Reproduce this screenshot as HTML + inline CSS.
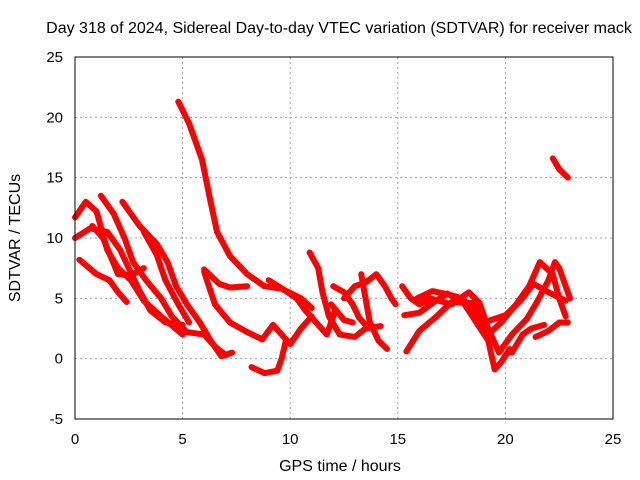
<!DOCTYPE html>
<html><head><meta charset="utf-8"><style>
body{margin:0;background:#fff}
svg{display:block;font-family:"Liberation Sans",sans-serif}
</style></head><body>
<svg id="chart" width="640" height="480">
<text x="339" y="33" font-size="16" text-anchor="middle">Day 318 of 2024, Sidereal Day-to-day VTEC variation (SDTVAR) for receiver mack</text>
<text x="340" y="471" font-size="16" text-anchor="middle">GPS time / hours</text>
<text x="20" y="238" font-size="16" text-anchor="middle" transform="rotate(-90 20 238)">SDTVAR / TECUs</text>
<g id="grid"></g><g id="ticks"></g><g id="series"></g>
<rect x="75" y="57" width="538" height="362" fill="none" stroke="#000" stroke-width="1"/>
</svg>
<script>
const xTicks=[0,5,10,15,20,25];
const yTicks=[-5,0,5,10,15,20,25];
const t1=[[4.8,21.3],[5.3,19.5],[5.9,16.5],[6.3,13],[6.6,10.5],[7.2,8.5],[8,7],[8.8,6],[9.6,5.8],[10.5,5],[11,4.2]];
const t2=[[6.0,7.4],[6.7,6.2],[7.2,5.9],[8,6]];
const t3=[[6.0,7.2],[6.5,4.5],[7.2,3],[8,2.2],[8.7,1.6],[9.2,2.8],[9.6,2],[10,1.2],[10.5,2.5],[11,3.5]];
const t4=[[8.2,-0.7],[8.8,-1.2],[9.4,-1],[9.6,0],[9.8,1.5]];
const t5=[[0,11.7],[0.5,13],[1,12.2],[1.5,9],[2,7.5],[2.6,6.5],[3.2,4.8],[4,3.5],[5,2]];
const t6=[[0,10],[0.7,10.8],[1.5,10.5],[2.1,9],[2.5,7.5],[3,5.6],[3.5,4],[4.2,3],[5,2.8]];
const t7=[[0.2,8.2],[1,7],[1.6,6.5],[2,5.5],[2.4,4.7]];
const t8=[[1.2,13.5],[1.8,12],[2.3,10],[2.7,8],[3.3,6.5],[4,5],[4.5,3.5],[5.2,2.2],[6,2],[6.5,1],[7,0.3]];
const t9=[[2.2,13],[3,11],[3.8,9.5],[4.3,8],[4.7,6],[5.2,4.5],[5.8,3],[6.3,1.5],[6.8,0.2],[7.3,0.5]];
const t10=[[3.2,10.5],[3.8,8.6],[4.2,6.5],[4.8,4.5],[5.3,3]];
const t11=[[0.8,11],[1.3,10],[2.0,7],[2.6,6.9],[3.2,7.5]];
const t12=[[10.9,8.8],[11.3,7.5],[11.5,5.5],[11.8,3.5],[12.3,2],[13,1.8],[13.5,2.5],[14.2,2.7]];
const t13=[[9,6.5],[9.8,5.6],[10.3,5],[10.7,4],[11.2,3],[11.7,2],[12.1,4]];
const t14=[[12.5,5],[13,6],[13.5,6.3],[14,7],[14.4,6],[14.7,5],[14.9,4.5]];
const t15=[[13.3,7],[13.5,5],[13.7,3],[14.1,1.5],[14.5,0.8]];
const t16=[[12.0,6.0],[12.5,5.5],[12.9,4.5],[13.2,3.4],[13.5,2.8]];
const t17=[[11.9,4.5],[12.5,3.2],[12.9,3.0]];
const t18=[[15.2,6],[15.6,5],[16,4.5],[16.5,5],[17.5,4.5],[18.3,5.5],[18.8,4.6],[19.2,2.5],[19.7,0.5],[20.3,2],[21,3.3],[21.5,4.8],[22,6.5],[22.3,8],[22.5,7.5],[23,5]];
const t19=[[15.3,3.6],[16,3.8],[16.6,4.6],[17.3,5.4],[18.1,4.5],[19.2,1.5],[19.5,-0.9],[19.8,-0.3],[20.2,0.8]];
const t20=[[15.4,0.6],[16,2.3],[16.8,3.5],[17.5,4.7],[18.5,4.6],[19.2,2],[19.8,3],[20.5,4.5],[21.1,6],[21.6,8],[22.2,7],[22.5,5],[22.8,3.5]];
const t21=[[15.9,5],[16.6,5.6],[17.4,5.3],[18,5],[19,3],[20,3.6],[20.7,4.8],[21.3,6.2],[22,5.5],[22.8,4.8]];
const t22=[[21.4,1.8],[22,2.3],[22.5,3],[22.9,3]];
const t23=[[22.2,16.6],[22.5,15.7],[22.9,15]];
const t24=[[20.3,0.5],[20.8,2],[21.2,2.5],[21.8,2.8]];
const tracks=[t1,t2,t3,t4,t5,t6,t7,t8,t9,t10,t11,t12,t13,t14,t15,t16,t17,t18,t19,t20,t21,t22,t23,t24];

const NS="http://www.w3.org/2000/svg";
const X0=75,X1=613,Y0=419,Y1=57;
function sx(v){return X0+(v-0)/(25-0)*(X1-X0);}
function sy(v){return Y0-(v+5)/(30)*(Y0-Y1);}
const grid=document.getElementById('grid'),ticks=document.getElementById('ticks'),ser=document.getElementById('series');
xTicks.forEach(v=>{
  const x=sx(v);
  if(v>0&&v<25){const l=document.createElementNS(NS,'line');
    l.setAttribute('x1',x);l.setAttribute('x2',x);l.setAttribute('y1',Y1);l.setAttribute('y2',Y0);
    l.setAttribute('stroke','#a0a0a0');l.setAttribute('stroke-dasharray','2,3');
    
    
    grid.appendChild(l);}
  const t=document.createElementNS(NS,'text');
  t.setAttribute('x',x);t.setAttribute('y',444);t.setAttribute('font-size','15');t.setAttribute('text-anchor','middle');
  t.textContent=v;
  
  
  ticks.appendChild(t);
});
yTicks.forEach(v=>{
  const y=sy(v);
  if(v>-5&&v<25){const l=document.createElementNS(NS,'line');
    l.setAttribute('x1',X0);l.setAttribute('x2',X1);l.setAttribute('y1',y);l.setAttribute('y2',y);
    l.setAttribute('stroke','#a0a0a0');l.setAttribute('stroke-dasharray','2,3');
    
    
    grid.appendChild(l);}
  const t=document.createElementNS(NS,'text');
  t.setAttribute('x',63);t.setAttribute('y',y+5);t.setAttribute('font-size','15');t.setAttribute('text-anchor','end');
  t.textContent=v;
  
  
  ticks.appendChild(t);
});
tracks.forEach((tr,i)=>{
  const p=document.createElementNS(NS,'polyline');
  p.setAttribute('points',tr.map(d=>sx(d[0])+','+sy(d[1])).join(' '));
  p.setAttribute('fill','none');p.setAttribute('stroke','#ff0000');p.setAttribute('stroke-width','6');
  p.setAttribute('stroke-linejoin','round');p.setAttribute('stroke-linecap','round');
  
  
  ser.appendChild(p);
});
</script>
</body></html>
